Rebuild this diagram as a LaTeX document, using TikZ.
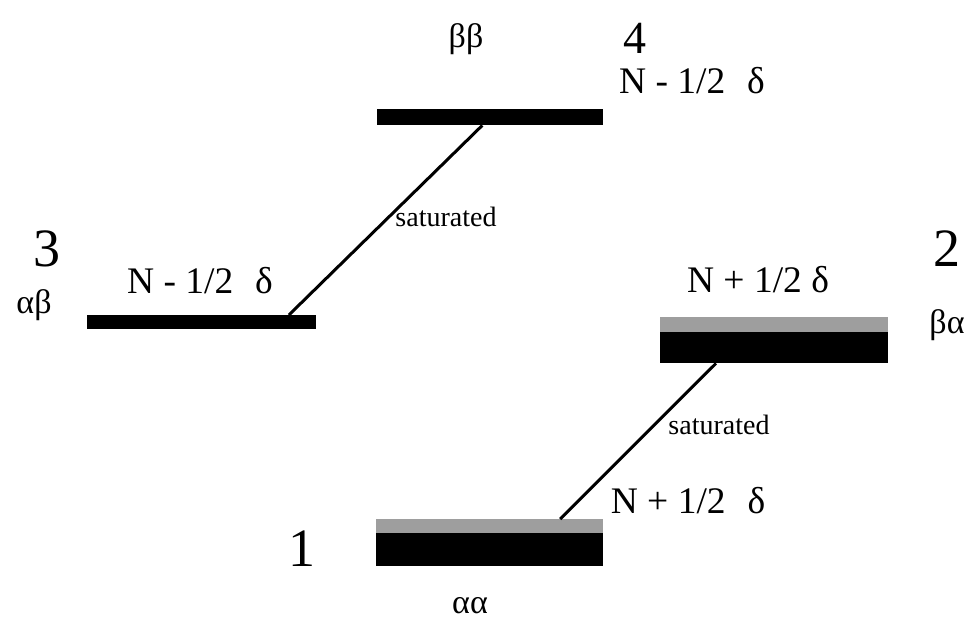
\documentclass[tikz,border=0pt]{standalone}
\usepackage{fontspec}
\setmainfont{Liberation Serif}
\usetikzlibrary{calc}
\begin{document}
\begin{tikzpicture}[x=1pt,y=-1pt,
  blackbar/.style={fill=black,draw=none,inner sep=0pt,anchor=north west},
  graybar/.style={fill=black!38,draw=none,inner sep=0pt,anchor=north west},
  lbl/.style={inner sep=0pt,anchor=base,font=\fontsize{37.5}{39}\selectfont},
  greek/.style={inner sep=0pt,anchor=base,font=\fontsize{34}{36}\selectfont},
  bignum/.style={inner sep=0pt,anchor=base,font=\fontsize{54}{56}\selectfont},
  satlbl/.style={inner sep=0pt,anchor=base,font=\fontsize{28}{30}\selectfont},
  conn/.style={line width=3pt}]
\useasboundingbox (0,0) rectangle (976,621);
% bars
\node[blackbar,minimum width=226pt,minimum height=16pt] (bar4) at (377,109) {};
\node[blackbar,minimum width=229pt,minimum height=14pt] (bar3) at (87,315) {};
\node[graybar,minimum width=228pt,minimum height=15pt] (bar2g) at (660,317) {};
\node[blackbar,minimum width=228pt,minimum height=31pt] (bar2) at (660,332) {};
\node[graybar,minimum width=227pt,minimum height=14pt] (bar1g) at (376,519) {};
\node[blackbar,minimum width=227pt,minimum height=33pt] (bar1) at (376,533) {};
% connectors
\coordinate (c4) at ($(bar4.south west)!0.465!(bar4.south east)$);
\coordinate (c3) at ($(bar3.north west)!0.88!(bar3.north east)$);
\coordinate (c2) at ($(bar2.south west)!0.245!(bar2.south east)$);
\coordinate (c1) at ($(bar1g.north west)!0.81!(bar1g.north east)$);
\draw[conn] (c4) -- (c3);
\draw[conn] (c2) -- (c1);
% labels
\node[greek] (bb) at (466,47) {ββ};
\node[bignum,font=\fontsize{46}{48}\selectfont] (n4) at (635,53) {4};
\node[lbl] (e4) at (692,93) {N - 1/2\,\, δ};
\node[bignum] (n3) at (47,266) {3};
\node[greek] (ab) at (34,313) {αβ};
\node[lbl] (e3) at (200,293) {N - 1/2\,\, δ};
\node[satlbl] (s1) at (446,226) {saturated};
\node[bignum] (n2) at (947,266) {2};
\node[lbl] (e2) at (758,292) {N + 1/2 δ};
\node[greek] (ba) at (947,333) {βα};
\node[satlbl] (s2) at (719,434) {saturated};
\node[lbl] (e1) at (688,513) {N + 1/2\,\, δ};
\node[bignum] (n1) at (302,566) {1};
\node[greek] (aa) at (470,613) {αα};
\end{tikzpicture}
\end{document}
